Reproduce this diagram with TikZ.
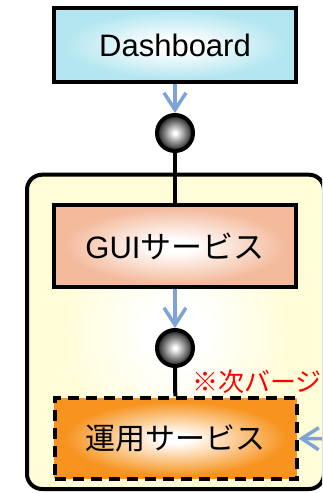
\documentclass[tikz,border=0pt]{standalone}
\usepackage{fontspec}
\setmainfont{Liberation Sans}
\newfontfamily\jp{Noto Sans CJK JP}
\usetikzlibrary{arrows.meta}

\definecolor{dashcol}{HTML}{B3E6F0}
\definecolor{guicol}{HTML}{F4BA9C}
\definecolor{opscol}{HTML}{F7931E}
\definecolor{zonecol}{HTML}{FFFDD8}
\definecolor{flowcol}{HTML}{7FA3D6}
\definecolor{ballrim}{HTML}{2E2E2E}

% soft centre-to-edge fills (the path's box spans -25bp..25bp)
\pgfdeclareradialshading{dashshade}{\pgfpoint{0bp}{0bp}}{color(0bp)=(white); color(4bp)=(white); color(23bp)=(dashcol); color(50bp)=(dashcol)}
\pgfdeclareradialshading{guishade}{\pgfpoint{0bp}{0bp}}{color(0bp)=(white); color(4bp)=(white); color(23bp)=(guicol); color(50bp)=(guicol)}
\pgfdeclareradialshading{opsshade}{\pgfpoint{0bp}{0bp}}{color(0bp)=(white); color(3bp)=(white); color(23bp)=(opscol); color(50bp)=(opscol)}
\pgfdeclareradialshading{zoneshade}{\pgfpoint{0bp}{0bp}}{color(0bp)=(white); color(5bp)=(white); color(19bp)=(zonecol); color(50bp)=(zonecol)}
\pgfdeclareradialshading{ballshade}{\pgfpoint{0bp}{0bp}}{color(0bp)=(white); color(2bp)=(white); color(23bp)=(ballrim); color(50bp)=(ballrim)}

\tikzset{
  svcbox/.style={draw=black, line width=4pt, minimum width=242pt, inner sep=0pt,
    font=\fontsize{31}{36}\selectfont},
  joint/.style={circle, draw=black, line width=4pt, minimum size=36pt, inner sep=0pt, shading=ballshade},
  flow/.style={draw=flowcol, line width=3.5pt, -{Straight Barb[length=17pt,width=22pt]}},
  link/.style={draw=black, line width=4pt},
  zone/.style={draw=black, line width=4pt, rounded corners=15pt, shading=zoneshade},
  note/.style={text=red, font=\jp\fontsize{26}{30}\selectfont, inner sep=0pt}
}

\begin{document}
\begin{tikzpicture}[x=1pt, y=-1pt]
  \useasboundingbox (0,0) rectangle (322,493);
  \clip (0,0) rectangle (322,493);

  % enclosing service zone
  \path[zone] (27,174.7) rectangle (324,489);

  % boxes
  \node[svcbox, minimum height=74pt, shading=dashshade] (dash) at (175,45) {Dashboard};
  \node[svcbox, minimum height=82.5pt, shading=guishade] (gui) at (175,246) {GUI{\jp サービス}};
  \node[svcbox, minimum height=80.5pt, dashed, dash pattern=on 11pt off 7pt,
        shading=opsshade, font=\jp\fontsize{30}{35}\selectfont] (ops) at (175.5,438.5) {運用サービス};

  % interface joints
  \node[joint] (c1) at (175,133) {};
  \node[joint] (c2) at (175,348) {};

  % connectors
  \draw[flow] (dash) -- (c1);
  \draw[link] (c1) -- (gui);
  \draw[flow] (gui) -- (c2);
  \draw[link] (c2) -- (ops);
  \coordinate (feed) at (345,439);
  \draw[flow] (feed) -- (ops.east);

  % note
  \node[note, anchor=west] (nxt) at (192,382) {※次バージ};
\end{tikzpicture}
\end{document}
